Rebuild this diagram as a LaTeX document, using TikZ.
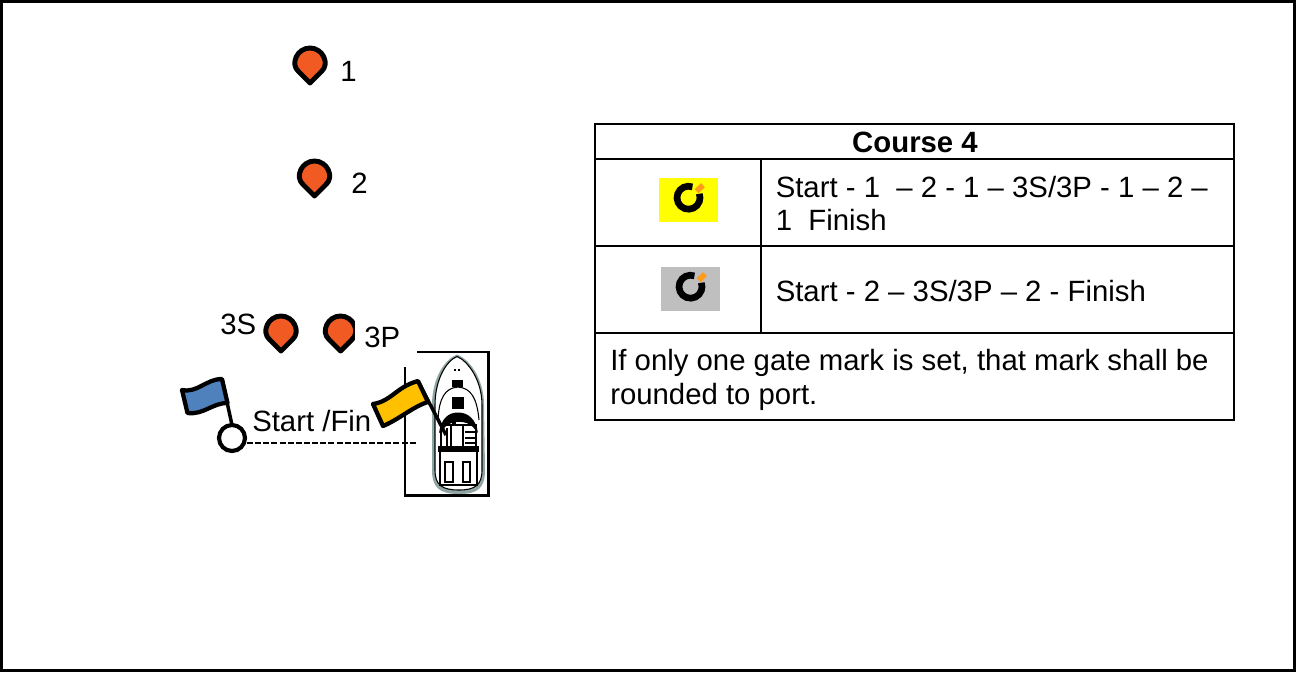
\documentclass[tikz,border=0pt]{standalone}
\usepackage{fontspec}
\setmainfont{Liberation Sans}
\definecolor{pinfill}{HTML}{F15A22}
\definecolor{flagblue}{HTML}{4F81BD}
\definecolor{flagyellow}{HTML}{FFC000}
\definecolor{iconorange}{HTML}{FF9A1A}
\definecolor{icongray}{HTML}{BFBFBF}
\definecolor{iconyellow}{RGB}{255,255,0}
\definecolor{hullshade}{HTML}{8FA5A3}
\newcommand{\racepin}[2]{%
  \draw[pinstyle] (#1,#2+21) -- ++(-11.5,-11.5)
    .. controls (#1-20,#2+2) and (#1-13,#2-14) .. (#1,#2-14)
    .. controls (#1+13,#2-14) and (#1+20,#2+2) .. (#1+11.5,#2+9.5) -- cycle;}
\newcommand{\raceicon}[5]{%
  \fill[#5] (#1,#2) rectangle (#3,#4);
  \draw[line width=5pt,black] ({(#1+#3)/2+11.5*cos(70)},{(#2+#4)/2-2.3-11.5*sin(70)}) arc[start angle=-70,end angle=-380,radius=11.5];
  \draw[line width=4.2pt,iconorange] ({(#1+#3)/2+8},{(#2+#4)/2-2.3-6.5}) -- ++(6.5,-6);}
\tikzset{
  pinstyle/.style={draw=black,fill=pinfill,line width=3.7pt,line join=round},
  flagstyle/.style={draw=black,line width=3.2pt,line join=round},
  poleline/.style={draw=black,line width=2.6pt},
  gridline/.style={draw=black,line width=1.4pt},
  boxline/.style={draw=black,line width=2.2pt},
  txt/.style={inner sep=0pt,font=\fontsize{22}{24.8}\selectfont,anchor=base west},
  celltxt/.style={inner sep=0pt,font=\fontsize{22}{25}\selectfont,anchor=west,align=left},
  boatline/.style={draw=black,line width=0.8pt}
}
\begin{document}
\begin{tikzpicture}[x=0.75pt,y=-0.75pt]
\useasboundingbox (0,0) rectangle (1296,672);
\fill[white] (0,0) rectangle (1296,672);
\draw[line width=2.4pt] (1.5,1.5) rectangle (1294.5,670.8);
% table
\draw[gridline] (595,124) rectangle (1234,420);
\draw[gridline] (595,159) -- (1234,159);
\draw[gridline] (595,246) -- (1234,246);
\draw[gridline] (595,333) -- (1234,333);
\draw[gridline] (761,159) -- (761,333);
\node[txt,anchor=base,font=\fontsize{22}{25}\selectfont\bfseries] (title) at (915,152) {Course 4};
\raceicon{659}{178}{718}{222}{iconyellow}
\raceicon{661}{267}{720}{311}{icongray}
\node[celltxt] (rowa) at (775.5,203.5) {Start - 1 \ – 2 - 1 – 3S/3P - 1 – 2 –\\1 \ Finish};
\node[celltxt] (rowb) at (775.5,291) {Start - 2 – 3S/3P – 2 - Finish};
\node[celltxt] (note) at (610,380) {If only one gate mark is set, that mark shall be\\rounded to port.};
% pins
\racepin{310}{62}
\racepin{314.5}{175}
\racepin{281}{330}
\racepin{340.5}{330}
\fill[white] (355,305) rectangle (362,356);
\node[txt] (l1) at (340,81) {1};
\node[txt] (l2) at (351,193) {2};
\node[txt] (l3s) at (220,334) {3S};
\node[txt] (l3p) at (364,347) {3P};
\node[txt] (lsf) at (252,431) {Start /Fin};
% committee box
\draw[boxline] (417,352) -- (488.5,352) -- (488.5,495.5) -- (405,495.5) -- (405,367);
% boat
\fill[hullshade] (457,354.5) .. controls (469,359) and (484,378) .. (484,405) -- (485,470) .. controls (485,488) and (478,494) .. (459,494) .. controls (440,494) and (432,488) .. (432,470) -- (432,405) .. controls (432,378) and (445,359) .. (457,354.5) -- cycle;
\draw[boatline,fill=white] (457,356.5) .. controls (468,361) and (482,380) .. (482,405) -- (482,470) .. controls (482,485) and (475,490) .. (459,490) .. controls (442,490) and (435,485) .. (435,470) -- (435,405) .. controls (435,380) and (446,361) .. (457,356.5) -- cycle;
\draw[boatline] (438,420) .. controls (439,398) and (445,388) .. (458,387) .. controls (471,388) and (477,398) .. (479,420);
\fill[black] (452,380) rectangle (463,387);
\fill[black] (452,397) rectangle (463.5,408.5);
\fill[black] (454,369) rectangle (456,371);
\fill[black] (458,369) rectangle (460,371);
\fill[black] (439,433) .. controls (441,419) and (448,412.5) .. (458,412.5) .. controls (468,412.5) and (476,419) .. (478,433) -- (473,427) .. controls (466,420) and (452,420) .. (445,427) -- cycle;
\draw[boatline] (441,425) rectangle (476,449);
\draw[boatline] (447,428) -- (447,449);
\draw[boatline,line width=1.2pt] (451,425) -- (451,449);
\draw[boatline,line width=1.2pt] (463,425) -- (463,449);
\draw[boatline,line width=1.2pt] (465,432) -- (476,432);
\draw[boatline,line width=1.2pt] (465,438) -- (476,438);
\draw[boatline,line width=1.2pt] (465,443) -- (476,443);
\fill[black] (452,420) rectangle (456,424);
\draw[boatline,line width=1pt] (439,447) rectangle (478,451);
\draw[boatline,line width=1.1pt] (440,451) rectangle (477,485);
\draw[boatline,line width=1.1pt] (445,462) rectangle (453,482);
\draw[boatline,line width=1.1pt] (463,462) rectangle (470,482);
% start line
\coordinate (bluetop) at (222,379);
\draw[poleline] (bluetop) -- (232,425);
\node[circle,draw=black,fill=white,line width=3.1pt,minimum size=19.5pt,inner sep=0pt] (pin) at (232,438) {};
\coordinate (boatend) at (417,443);
\draw[dash pattern=on 4.5pt off 1.6pt,line width=0.95pt] (pin.east |- boatend) -- (boatend);
% blue flag
\draw[flagstyle,fill=flagblue] (182,390) .. controls (198,393) and (206,379) .. (222,379) -- (227.5,403) .. controls (212,403) and (204,415) .. (187.5,413) -- cycle;
% yellow flag
\coordinate (yellowtop) at (418,381);
\coordinate (yellowend) at (446,435);
\draw[poleline] (yellowtop) -- (yellowend);
\draw[flagstyle,fill=flagyellow] (373,404) .. controls (392,401) and (396,387) .. (418,381) -- (428,402) .. controls (414,406) and (398,420) .. (383,426) -- cycle;
\end{tikzpicture}
\end{document}
